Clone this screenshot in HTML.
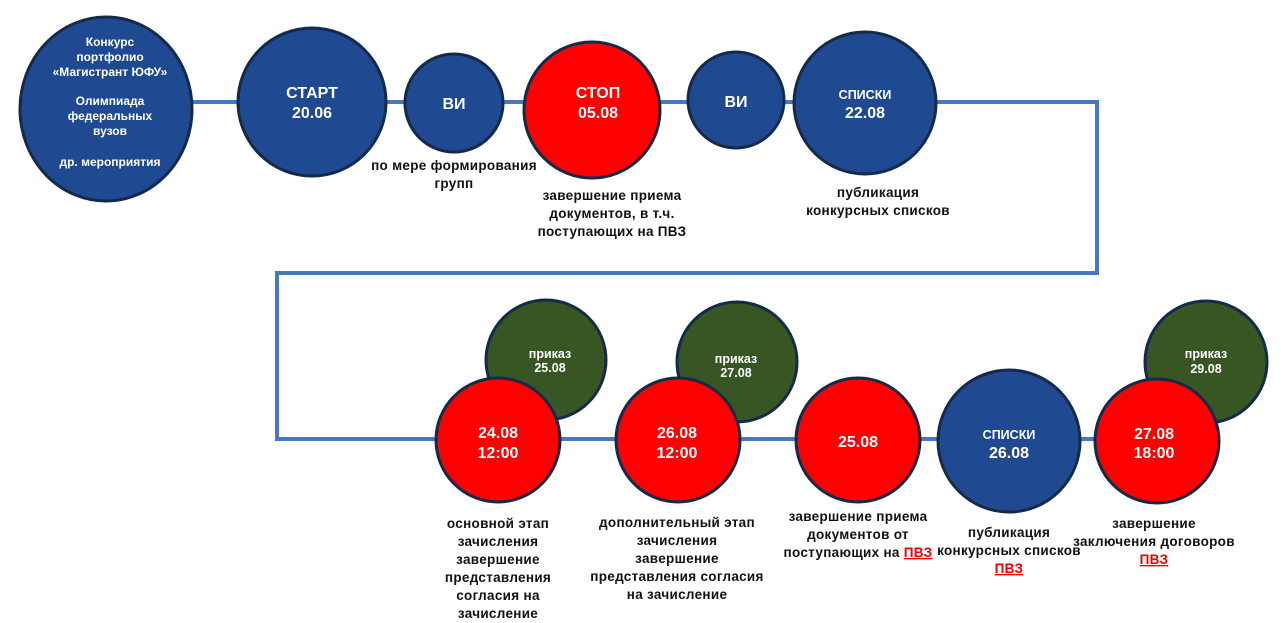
<!DOCTYPE html>
<html><head><meta charset="utf-8"><style>
html,body{margin:0;padding:0;background:#fff;}
svg{display:block;}
text{font-family:"Liberation Sans","DejaVu Sans",sans-serif;font-weight:bold;text-anchor:middle;}
.w{fill:#fff;}
.l{fill:#111;font-size:13.5px;letter-spacing:0.3px;}
.r{fill:#e00;text-decoration:underline;}
</style></head><body>
<svg width="1281" height="623" viewBox="0 0 1281 623">
<polyline points="180,102 1097,102 1097,273 277,273 277,439 1100,439" fill="none" stroke="#4a78c0" stroke-width="4"/>
<g stroke="#152a4a" stroke-width="3">
<ellipse cx="106" cy="109" rx="86" ry="92" fill="#1f4a92"/>
<circle cx="312" cy="102" r="74" fill="#1f4a92"/>
<circle cx="454" cy="103" r="49" fill="#1f4a92"/>
<circle cx="592" cy="110" r="68" fill="#ff0000"/>
<circle cx="736" cy="100" r="48" fill="#1f4a92"/>
<circle cx="865" cy="103" r="71" fill="#1f4a92"/>
<circle cx="546" cy="360" r="60" fill="#375623"/>
<circle cx="737" cy="362" r="60" fill="#375623"/>
<circle cx="1206" cy="362" r="61" fill="#375623"/>
<circle cx="498" cy="440" r="62" fill="#ff0000"/>
<circle cx="678" cy="440" r="62" fill="#ff0000"/>
<circle cx="858" cy="440" r="62" fill="#ff0000"/>
<circle cx="1009" cy="441" r="71" fill="#1f4a92"/>
<circle cx="1157" cy="441" r="62" fill="#ff0000"/>
</g>
<g class="w" font-size="12">
<text x="110" y="46">Конкурс</text>
<text x="110" y="61">портфолио</text>
<text x="110" y="76">«Магистрант ЮФУ»</text>
<text x="110" y="105">Олимпиада</text>
<text x="110" y="120">федеральных</text>
<text x="110" y="135">вузов</text>
<text x="110" y="166">др. мероприятия</text>
</g>
<g class="w" font-size="16">
<text x="312" y="98">СТАРТ</text><text x="312" y="118">20.06</text>
<text x="454" y="109">ВИ</text>
<text x="598" y="98">СТОП</text><text x="598" y="118">05.08</text>
<text x="736" y="107">ВИ</text>
<text x="865" y="118">22.08</text>
<text x="498" y="438">24.08</text><text x="498" y="458">12:00</text>
<text x="677" y="438">26.08</text><text x="677" y="458">12:00</text>
<text x="858" y="447">25.08</text>
<text x="1009" y="458">26.08</text>
<text x="1154" y="439">27.08</text><text x="1154" y="458">18:00</text>
</g>
<g class="w" font-size="12.5">
<text x="865" y="99">СПИСКИ</text>
<text x="1009" y="439">СПИСКИ</text>
<text x="550" y="358">приказ</text><text x="550" y="372">25.08</text>
<text x="736" y="363">приказ</text><text x="736" y="377">27.08</text>
<text x="1206" y="358">приказ</text><text x="1206" y="373">29.08</text>
</g>
<g class="l">
<text x="454" y="170">по мере формирования</text><text x="454" y="188">групп</text>
<text x="612" y="200">завершение приема</text><text x="612" y="218">документов, в т.ч.</text><text x="612" y="236">поступающих на ПВЗ</text>
<text x="878" y="197">публикация</text><text x="878" y="215">конкурсных списков</text>
<text x="498" y="528">основной этап</text><text x="498" y="546">зачисления</text><text x="498" y="564">завершение</text><text x="498" y="582">представления</text><text x="498" y="600">согласия на</text><text x="498" y="618">зачисление</text>
<text x="677" y="527">дополнительный этап</text><text x="677" y="545">зачисления</text><text x="677" y="563">завершение</text><text x="677" y="581">представления согласия</text><text x="677" y="599">на зачисление</text>
<text x="858" y="521">завершение приема</text><text x="858" y="539">документов от</text><text x="858" y="557">поступающих на <tspan class="r">ПВЗ</tspan></text>
<text x="1009" y="537">публикация</text><text x="1009" y="555">конкурсных списков</text><text x="1009" y="573" class="r">ПВЗ</text>
<text x="1154" y="528">завершение</text><text x="1154" y="546">заключения договоров</text><text x="1154" y="564" class="r">ПВЗ</text>
</g>
</svg>
</body></html>
